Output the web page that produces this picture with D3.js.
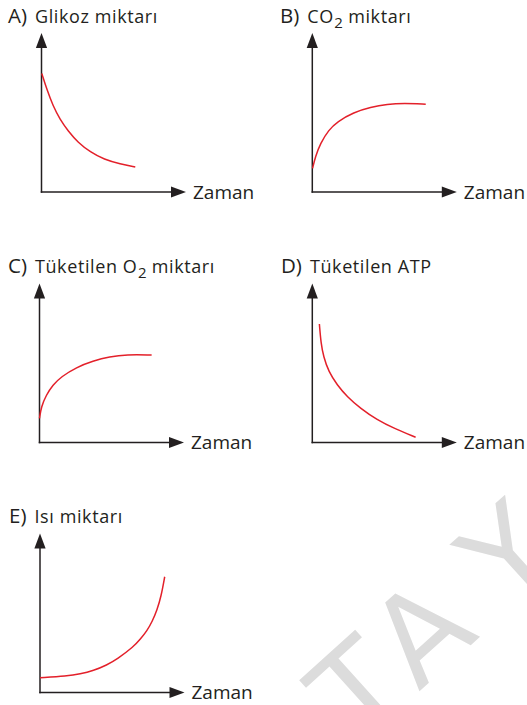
<!DOCTYPE html>
<html>
<head>
<meta charset="utf-8">
<script src="https://cdn.jsdelivr.net/npm/d3@7"></script>
<style>
  html, body { margin: 0; padding: 0; background: #fff; }
  svg { display: block; font-family: "Open Sans", "Noto Sans", sans-serif; }
</style>
</head>
<body>
<svg id="chart" width="527" height="705"></svg>
<script>
// Panel labels and titles (odd-indexed title parts are subscripts)
const panelLetters = ["A)", "B)", "C)", "D)", "E)"];
const panelTitles = [
  ["Glikoz miktarı"],
  ["CO", "2", " miktarı"],
  ["Tüketilen O", "2", " miktarı"],
  ["Tüketilen ATP"],
  ["Isı miktarı"]
];
const xAxisLabel = "Zaman";
const watermarkLetters = ["T", "A", "Y"];

// Curves: time and amount for each panel (arbitrary units, 0–10)
const glikozTime  = [0.02, 0.38, 0.8, 1.28, 1.84, 2.53, 3.37, 4.34, 5.45, 6.49];
const glikozValue = [7.45, 6.42, 5.41, 4.56, 3.84, 3.11, 2.52, 2.04, 1.76, 1.57];

const co2Time  = [0.02, 0.21, 0.56, 1.13, 1.72, 2.87, 4.03, 5.19, 6.34, 7.85];
const co2Value = [1.49, 2.22, 3.06, 3.90, 4.42, 5.01, 5.33, 5.52, 5.58, 5.52];

const o2Time  = [0, 0.12, 0.47, 0.92, 1.51, 2.55, 3.7, 4.86, 6.02, 7.76];
const o2Value = [1.52, 2.25, 2.99, 3.62, 4.14, 4.73, 5.13, 5.4, 5.53, 5.5];

const atpTime  = [0.49, 0.6, 0.78, 1.13, 1.72, 2.41, 3.33, 4.49, 5.65, 7.15];
const atpValue = [7.45, 6.24, 5.4, 4.45, 3.62, 2.88, 2.15, 1.42, 0.89, 0.33];

const isiTime  = [0, 1.85, 2.78, 3.7, 4.63, 5.33, 6.48, 6.94, 7.41, 7.76, 8.1, 8.38, 8.63];
const isiValue = [0.93, 1.04, 1.16, 1.37, 1.73, 2.09, 2.88, 3.35, 3.89, 4.45, 5.19, 6.03, 7.28];

const series = [
  [glikozTime, glikozValue],
  [co2Time, co2Value],
  [o2Time, o2Value],
  [atpTime, atpValue],
  [isiTime, isiValue]
];

// Layout
const origins = [[41.5, 192], [312.3, 192], [39.5, 442.5], [312.3, 442.5], [40, 692.5]];
const labelX = [8, 280, 8, 281, 9];
const axisW = 144.5, axisH = 159;
const ink = "#231f20", curveColor = "#e3202a";

const svg = d3.select("#chart");

// Background watermark letters
const wm = svg.append("text")
  .attr("transform", "translate(359,746) rotate(-42)")
  .attr("font-family", "DejaVu Sans, sans-serif")
  .attr("font-size", 122)
  .attr("fill", "#dcdcdc")
  .style("font-kerning", "none");
const wmGaps = [0, 6, 38];
watermarkLetters.forEach((ch, k) => wm.append("tspan").attr("dx", wmGaps[k]).text(ch));

const arrowLen = 15, arrowHalf = 5.6;

series.forEach(([tArr, vArr], i) => {
  const [ox, oy] = origins[i];
  const x = d3.scaleLinear().domain([0, 10]).range([ox, ox + axisW]);
  const y = d3.scaleLinear().domain([0, 10]).range([oy, oy - axisH]);
  const g = svg.append("g");

  // Axes (no ticks) with arrowheads
  const xAxis = g.append("g").attr("transform", `translate(0,${oy})`)
    .call(d3.axisBottom(x).tickValues([]).tickSizeOuter(0));
  const yAxis = g.append("g").attr("transform", `translate(${ox},0)`)
    .call(d3.axisLeft(y).tickValues([]).tickSizeOuter(0));
  xAxis.select(".domain").attr("stroke", ink).attr("stroke-width", 1.5)
    .attr("d", `M${x(0) - 0.75},0H${x(10) - arrowLen + 2}`);
  yAxis.select(".domain").attr("stroke", ink).attr("stroke-width", 1.5)
    .attr("d", `M0,${y(0) + 0.75}V${y(10) + arrowLen - 2}`);

  g.append("path")
    .attr("d", `M${x(10)},${oy}L${x(10) - arrowLen},${oy - arrowHalf}L${x(10) - arrowLen},${oy + arrowHalf}Z`)
    .attr("fill", ink);
  g.append("path")
    .attr("d", `M${ox},${y(10)}L${ox - arrowHalf},${y(10) + arrowLen}L${ox + arrowHalf},${y(10) + arrowLen}Z`)
    .attr("fill", ink);

  // X axis label
  g.append("text")
    .attr("x", x(10) + 7).attr("y", oy + 6.5)
    .attr("font-size", 19).attr("fill", ink)
    .text(xAxisLabel);

  // Panel title
  const t = g.append("text")
    .attr("x", labelX[i]).attr("y", oy - 169.5)
    .attr("fill", ink);
  t.append("tspan").attr("font-size", 20.5).text(panelLetters[i]);
  panelTitles[i].forEach((part, k) => {
    if (k % 2 === 1) {
      t.append("tspan").attr("font-size", 15).attr("dy", 5).attr("dx", 0.5).text(part);
    } else {
      const s = t.append("tspan").attr("font-size", 18).attr("letter-spacing", 0.6).text(part);
      if (k === 0) s.attr("dx", 8);
      else s.attr("dy", -5);
    }
  });

  // Curve
  const pts = tArr.map((tv, k) => [tv, vArr[k]]);
  g.append("path")
    .datum(pts)
    .attr("fill", "none")
    .attr("stroke", curveColor)
    .attr("stroke-width", 1.5)
    .attr("d", d3.line().x(d => x(d[0])).y(d => y(d[1])).curve(d3.curveBasis));
});
</script>
</body>
</html>
